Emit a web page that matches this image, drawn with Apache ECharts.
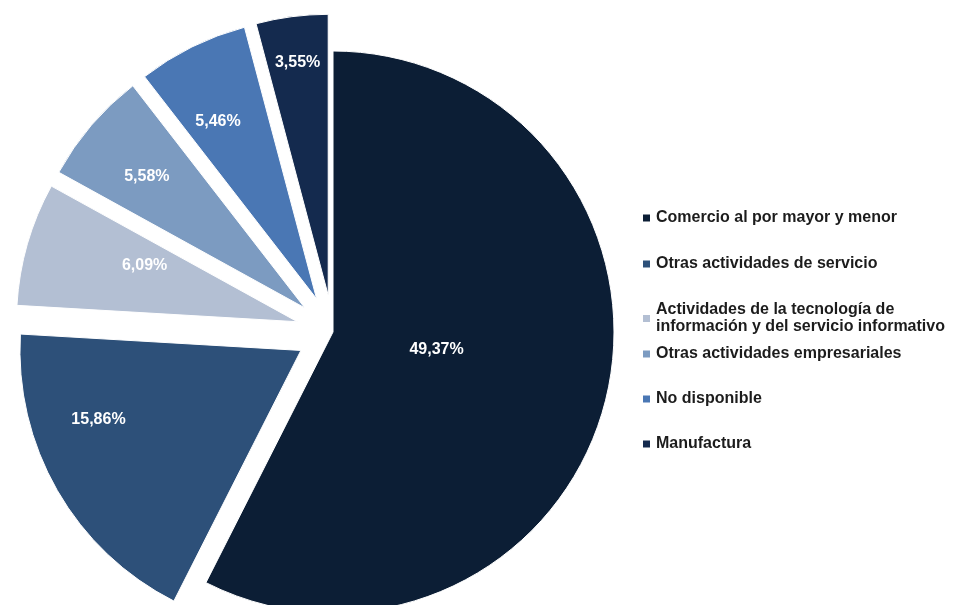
<!DOCTYPE html>
<html>
<head>
<meta charset="utf-8">
<script src="https://cdn.jsdelivr.net/npm/echarts@6/dist/echarts.min.js"></script>
<style>
html,body{margin:0;padding:0;background:#fff;}
#chart{width:959px;height:605px;}
</style>
</head>
<body>
<div id="chart"></div>
<script>
const categories = [
  'Comercio al por mayor y menor',
  'Otras actividades de servicio',
  'Actividades de la tecnología de\ninformación y del servicio informativo',
  'Otras actividades empresariales',
  'No disponible',
  'Manufactura'
];
const values = [49.37, 15.86, 6.09, 5.58, 5.46, 3.55];
const colors = ['#0c1e35', '#2d5079', '#b3bfd3', '#7c9bc1', '#4a77b4', '#142a4e'];
const exploded = [false, true, true, true, true, true];
// label nudges (px) relative to the library's inside position
const labelNudge = [[-36, -16], [-78, -2], [-15, -16], [-49, -38], [-35, -49], [-12, -90]];
// legend row centres (px from top)
const legendRowCentres = [218, 264, 318.5, 354, 399, 444];

const chart = echarts.init(document.getElementById('chart'), null, {renderer: 'canvas'});

const data = categories.map((name, i) => ({
  name: name,
  value: values[i],
  selected: exploded[i],
  itemStyle: {color: colors[i]},
  label: {offset: labelNudge[i]},
  select: {label: {offset: labelNudge[i]}}
}));

const legends = categories.map((name, i) => {
  const lines = name.split('\n').length;
  const lh = 17;
  return {
    data: [name],
    orient: 'vertical',
    left: 641,
    top: legendRowCentres[i] - lines * lh / 2,
    padding: 0,
    itemWidth: 9,
    itemHeight: 9,
    icon: 'rect',
    selectedMode: false,
    textStyle: {
      fontFamily: '"Liberation Sans", Arial, sans-serif',
      fontWeight: 'bold',
      fontSize: 16,
      lineHeight: lh,
      color: '#1c1c1c'
    }
  };
});

chart.setOption({
  animation: false,
  backgroundColor: '#ffffff',
  legend: legends,
  series: [{
    type: 'pie',
    center: [333, 332],
    radius: 281,
    startAngle: 90,
    clockwise: true,
    selectedMode: 'multiple',
    selectedOffset: 37,
    avoidLabelOverlap: false,
    emphasis: {disabled: true},
    itemStyle: {borderColor: '#ffffff', borderWidth: 1},
    label: {
      show: true,
      position: 'inside',
      color: '#ffffff',
      fontFamily: '"Liberation Sans", Arial, sans-serif',
      fontWeight: 'bold',
      fontSize: 16,
      formatter: p => p.value.toFixed(2).replace('.', ',') + '%'
    },
    labelLine: {show: false},
    data: data
  }]
});
</script>
</body>
</html>
